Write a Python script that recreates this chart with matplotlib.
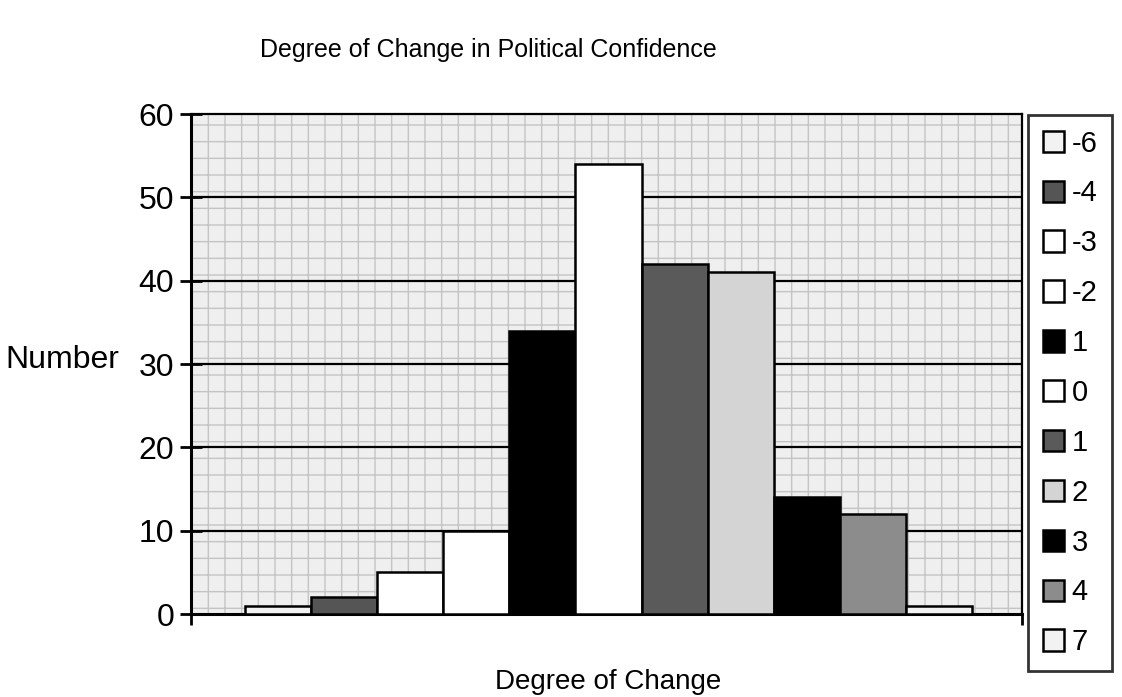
import numpy as np
import matplotlib.pyplot as plt
from matplotlib.patches import Rectangle

plt.rcParams['font.family'] = ['Liberation Sans', 'DejaVu Sans']

# Degree of change categories (legend order as in the source) and counts
labels = ['-6', '-4', '-3', '-2', '1', '0', '1', '2', '3', '4', '7']
counts = [1, 2, 5, 10, 34, 54, 42, 41, 14, 12, 1]
colors = ['#f2f2f2', '#555555', '#ffffff', '#ffffff', '#000000', '#ffffff',
          '#5a5a5a', '#d4d4d4', '#000000', '#8c8c8c', '#f2f2f2']
yticks = [0, 10, 20, 30, 40, 50, 60]

fig = plt.figure(figsize=(11.22, 6.97), dpi=100)
ax = fig.add_axes([191 / 1122, 83 / 697, 831 / 1122, 500 / 697])

# stippled background of the plot area
ax.set_facecolor('white')
bg = Rectangle((0, 0), 1, 1, transform=ax.transAxes, facecolor='#efefef',
               edgecolor='#c4c4c4', hatch='+', lw=0, zorder=0)
ax.add_patch(bg)

x = np.arange(len(counts))
for i in range(len(counts)):
    ax.bar(x[i], counts[i], width=1.0, color=colors[i], edgecolor='black',
           linewidth=1.8, label=labels[i], zorder=3)

ax.set_xlim(-1.32, 11.26)
ax.set_ylim(0, 60)
ax.set_yticks(yticks)
for v in yticks[1:-1]:
    ax.axhline(v, color='black', lw=1.6, zorder=2)

for s in ['left', 'bottom']:
    ax.spines[s].set_linewidth(2.2)
for s in ['top', 'right']:
    ax.spines[s].set_linewidth(1.6)

ax.tick_params(axis='y', direction='inout', length=16, width=2, labelsize=23, pad=4)
ax.set_xticks([-1.32, 11.26])
ax.set_xticklabels(['', ''])
ax.tick_params(axis='x', direction='out', length=8, width=2)

# axis titles placed as free text like the original Excel layout
fig.text(5 / 1122, 1 - 360 / 697, 'Number', ha='left', va='center', fontsize=23)
fig.text(608 / 1122, 1 - 689 / 697, 'Degree of Change', ha='center',
         va='baseline', fontsize=20)
fig.text(488 / 1122, 1 - 50 / 697, 'Degree of Change in Political Confidence',
         ha='center', va='center', fontsize=18)

leg = fig.legend(loc='upper left', bbox_to_anchor=(1028 / 1122, 1 - 115 / 697),
                 fontsize=21, frameon=True, fancybox=False, handlelength=0.75,
                 handleheight=0.75, handletextpad=0.25, labelspacing=0.75,
                 borderpad=0.5, borderaxespad=0)
leg.get_frame().set_edgecolor('black')
leg.get_frame().set_linewidth(2)

fig.savefig('out.png', dpi=100)
